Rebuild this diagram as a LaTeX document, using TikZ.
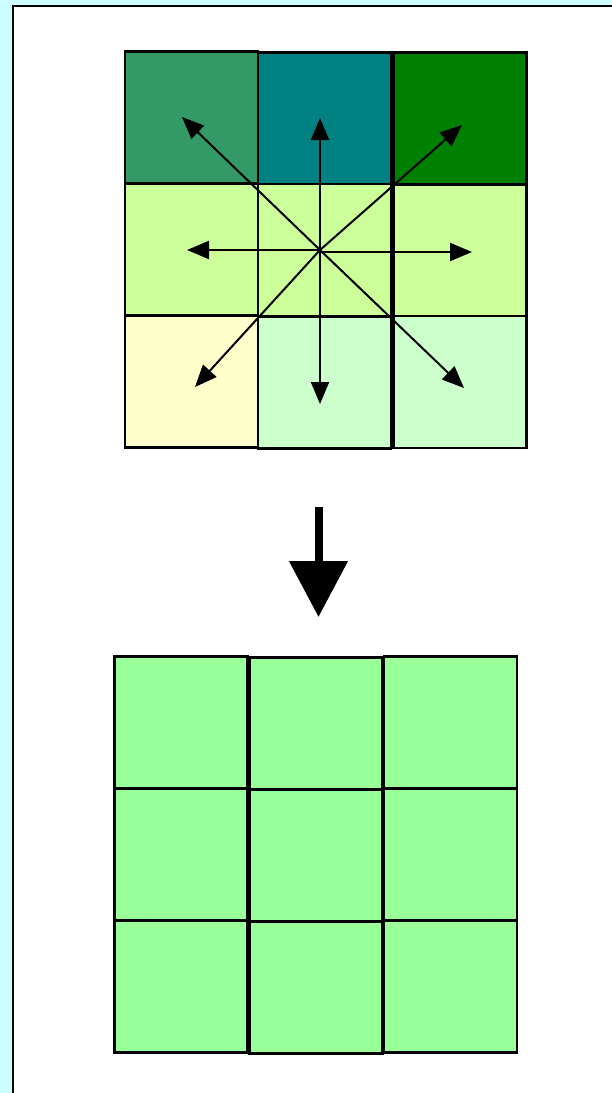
\documentclass[tikz,border=0pt]{standalone}
\usetikzlibrary{arrows.meta}
\definecolor{bgcyan}{HTML}{CCFFFF}
\definecolor{seag}{HTML}{339966}
\definecolor{tealc}{HTML}{008080}
\definecolor{darkg}{HTML}{008000}
\definecolor{limec}{HTML}{CCFF99}
\definecolor{paley}{HTML}{FFFFCC}
\definecolor{paleg}{HTML}{CCFFCC}
\definecolor{resg}{HTML}{99FF99}
\begin{document}
\begin{tikzpicture}[x=1pt,y=-1pt,
  cell/.style={draw=black, line width=2.2pt, minimum width=133pt, minimum height=132pt, inner sep=0pt, outer sep=0pt},
  dirarrow/.style={draw=black, line width=2pt, -{Triangle[length=22pt,width=18pt]}},
  bigarrow/.style={draw=black, line width=8pt, -{Triangle[length=56pt,width=57pt]}}]
\useasboundingbox (0,0) rectangle (611,1093);
\fill[bgcyan] (0,0) rectangle (611,1093);
\draw[fill=white, line width=2.5pt] (13,6) rectangle (625,1105);
% top grid
\node[cell, fill=seag]  (t11) at (191.5,117.5) {};
\node[cell, fill=tealc] (t12) at (324.5,118.5) {};
\node[cell, fill=darkg] (t13) at (460,118.5) {};
\node[cell, fill=limec] (t21) at (191.5,250) {};
\node[cell, fill=limec] (t22) at (324.5,250) {};
\node[cell, fill=limec] (t23) at (460,250.5) {};
\node[cell, fill=paley] (t31) at (191.5,381.5) {};
\node[cell, fill=paleg] (t32) at (324.5,382.5) {};
\node[cell, fill=paleg] (t33) at (460,382) {};
% arrows
\coordinate (c) at (320,250);
\coordinate (nw) at (182,117);
\coordinate (n) at (320,118);
\coordinate (ne) at (462,125);
\coordinate (w) at (187,250);
\coordinate (e) at (472,252);
\coordinate (sw) at (195,387);
\coordinate (s) at (320,404);
\coordinate (se) at (464,388);
\coordinate (c2) at (320,252);
\draw[dirarrow] (c) -- (nw);
\draw[dirarrow] (c) -- (n);
\draw[dirarrow] (c) -- (ne);
\draw[dirarrow] (c) -- (w);
\draw[dirarrow] (c2) -- (e);
\draw[dirarrow] (c) -- (sw);
\draw[dirarrow] (c) -- (s);
\draw[dirarrow] (c) -- (se);
% big arrow
\coordinate (bs) at (318.5,507);
\coordinate (be) at (318.5,617);
\draw[bigarrow] (bs) -- (be);
% bottom grid
\node[cell, fill=resg] (b11) at (181,722.5) {};
\node[cell, fill=resg] (b12) at (316,723.5) {};
\node[cell, fill=resg] (b13) at (450.5,722.5) {};
\node[cell, fill=resg] (b21) at (181,854.5) {};
\node[cell, fill=resg] (b22) at (316,855.5) {};
\node[cell, fill=resg] (b23) at (450.5,854.5) {};
\node[cell, fill=resg] (b31) at (181,986.5) {};
\node[cell, fill=resg] (b32) at (316,987.5) {};
\node[cell, fill=resg] (b33) at (450.5,986.5) {};
\end{tikzpicture}
\end{document}
